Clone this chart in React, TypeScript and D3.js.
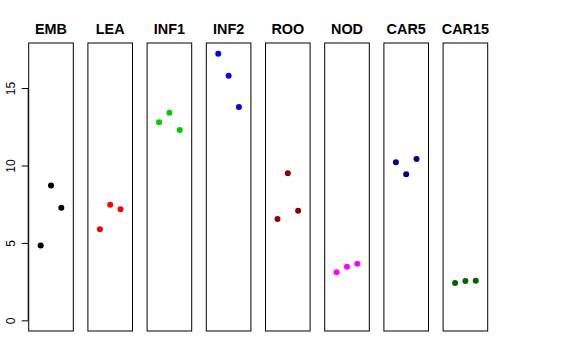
import * as d3 from 'd3';
import { useEffect, useRef } from 'react';

const tissues = ['EMB', 'LEA', 'INF1', 'INF2', 'ROO', 'NOD', 'CAR5', 'CAR15'];
const colors = ['#000000', '#FF0000', '#00CD00', '#0000FF', '#8B0000', '#FF00FF', '#00008B', '#006400'];
const reps = [1, 2, 3];

const emb = [4.84, 8.70, 7.27];
const lea = [5.88, 7.47, 7.17];
const inf1 = [12.79, 13.41, 12.29];
const inf2 = [17.22, 15.80, 13.78];
const roo = [6.54, 9.50, 7.08];
const nod = [3.10, 3.46, 3.66];
const car5 = [10.21, 9.43, 10.42];
const car15 = [2.41, 2.54, 2.56];

const series = [emb, lea, inf1, inf2, roo, nod, car5, car15];
const yTicks = [0, 5, 10, 15];

const drawPanels = (container: HTMLElement) => {
  const width = 576;
  const height = 360;
  const top = 43;
  const bottom = 331;
  const firstLeft = 28.7;
  const step = 59.2;
  const panelW = 44.6;

  const yMax = d3.max(series.flat()) as number;
  const yPad = yMax * 0.04;
  const y = d3.scaleLinear().domain([0 - yPad, yMax + yPad]).range([bottom, top]);
  const x = d3.scaleLinear().domain([-0.16, 4.16]).range([0, panelW]);

  const svg = d3.select(container).append('svg')
    .attr('width', width)
    .attr('height', height)
    .attr('viewBox', `0 0 ${width} ${height}`)
    .attr('style', 'position: absolute; left: 0; top: 0; background: #fff;');

  // shared y axis on the first panel
  const yAxis = d3.axisLeft(y).tickValues(yTicks).tickSize(7).tickPadding(4).tickSizeOuter(0);
  const ag = svg.append('g')
    .attr('transform', `translate(${firstLeft}, 0)`)
    .call(yAxis);
  ag.select('.domain').remove();
  ag.append('line')
    .attr('x1', -0.5).attr('x2', -0.5)
    .attr('y1', y(0)).attr('y2', y(15))
    .attr('stroke', '#000');
  ag.selectAll('.tick line').attr('stroke', '#000');
  ag.selectAll('.tick text')
    .attr('font-family', 'Liberation Sans, Arial, sans-serif')
    .attr('font-size', 12)
    .attr('fill', '#000')
    .attr('text-anchor', 'middle')
    .attr('transform', 'rotate(-90)')
    .attr('x', 0)
    .attr('y', -14)
    .attr('dy', '0');

  tissues.forEach((name, i) => {
    const left = firstLeft + i * step;
    const g = svg.append('g').attr('transform', `translate(${left}, 0)`);

    g.append('rect')
      .attr('x', 0)
      .attr('y', top)
      .attr('width', panelW)
      .attr('height', bottom - top)
      .attr('fill', 'none')
      .attr('stroke', '#000')
      .attr('stroke-width', 1);

    g.append('text')
      .attr('x', panelW / 2)
      .attr('y', 34)
      .attr('text-anchor', 'middle')
      .attr('font-family', 'Liberation Sans, Arial, sans-serif')
      .attr('font-weight', 'bold')
      .attr('font-size', 14.4)
      .text(name);

    g.selectAll('circle')
      .data(series[i])
      .join('circle')
      .attr('cx', (d, j) => x(reps[j]))
      .attr('cy', d => y(d))
      .attr('r', 3)
      .attr('fill', colors[i]);
  });

  return svg.node();
};

export default function App() {
  const domRef = useRef<HTMLDivElement>(null);
  useEffect(() => {
    if (domRef.current) {
      drawPanels(domRef.current);
    }
    return () => {
      d3.select(domRef.current).selectAll('svg').remove();
    };
  }, [domRef]);
  return <div ref={domRef}></div>;
}
